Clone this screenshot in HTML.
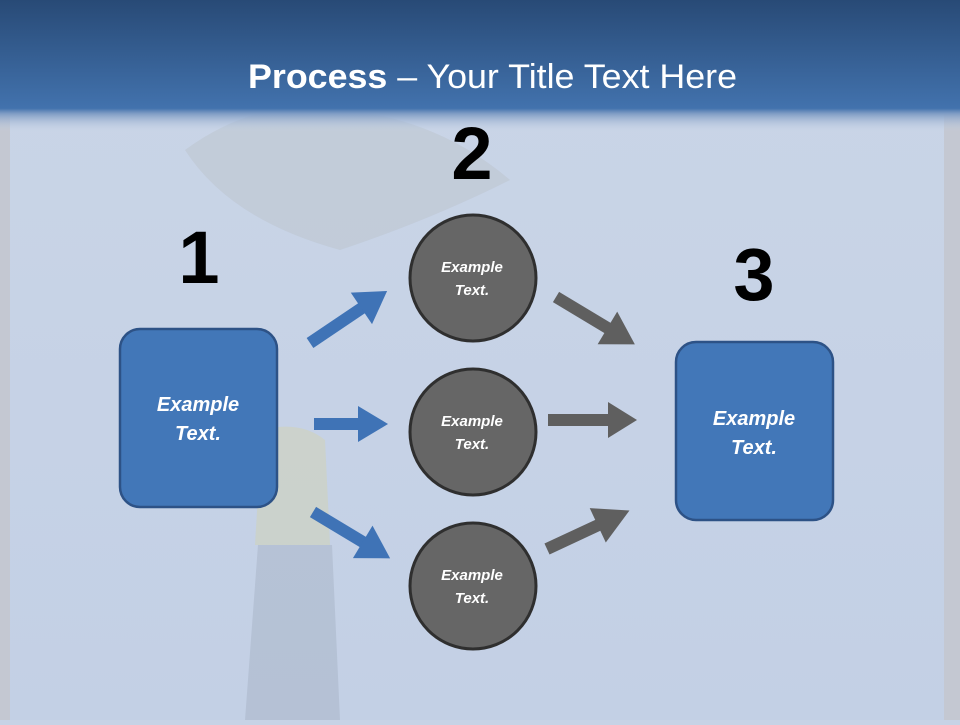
<!DOCTYPE html>
<html><head><meta charset="utf-8"><style>
html,body{margin:0;padding:0}
body{width:960px;height:720px;overflow:hidden;background:#c7d3e6;font-family:"Liberation Sans",sans-serif}
</style></head><body>
<svg width="960" height="720" viewBox="0 0 960 720" xmlns="http://www.w3.org/2000/svg">
<defs>
<linearGradient id="hd" x1="0" y1="0" x2="0" y2="1">
<stop offset="0" stop-color="#284a76"/>
<stop offset="0.82" stop-color="#4272ad"/>
<stop offset="0.86" stop-color="#7f9cc4"/>
<stop offset="1" stop-color="#c7d3e6" stop-opacity="0"/>
</linearGradient>
<linearGradient id="bg" x1="0" y1="0" x2="0" y2="1">
<stop offset="0" stop-color="#cad5e7"/>
<stop offset="1" stop-color="#c3d0e5"/>
</linearGradient>
</defs>
<rect width="960" height="720" fill="url(#bg)"/>
<rect x="0" y="110" width="10" height="610" fill="#c4c8d2"/>
<rect x="944" y="110" width="16" height="610" fill="#c4c8d2"/>
<path d="M185 150 Q260 95 345 110 Q440 120 510 180 Q430 220 340 250 Q230 220 185 150Z" fill="#bcc3cc" opacity="0.5"/>
<path d="M262 430 Q300 420 325 440 L330 545 L255 545Z" fill="#d6d49a" opacity="0.35"/>
<path d="M258 545 L332 545 L340 720 L245 720Z" fill="#9aa6b8" opacity="0.35"/>
<rect x="0" y="0" width="960" height="132" fill="url(#hd)"/>
<text x="248" y="88" textLength="489" lengthAdjust="spacingAndGlyphs" font-size="34" fill="#fff"><tspan font-weight="bold">Process</tspan> – Your Title Text Here</text>
<g font-weight="bold" font-size="74" fill="#000" text-anchor="middle">
<text x="199" y="283">1</text><text x="472" y="179">2</text><text x="754" y="300">3</text>
</g>
<g fill="#3f73b6">
<g transform="translate(310,343) rotate(-34)"><rect x="0" y="-6" width="68" height="12"/><polygon points="62,-19 93,0 62,19"/></g>
<g transform="translate(314,424)"><rect x="0" y="-6" width="50" height="12"/><polygon points="44,-18 74,0 44,18"/></g>
<g transform="translate(313,512) rotate(31)"><rect x="0" y="-6" width="64" height="12"/><polygon points="58,-19 90,0 58,19"/></g>
</g>
<g fill="#5f5f5f">
<g transform="translate(556,297) rotate(31)"><rect x="0" y="-6" width="66" height="12"/><polygon points="60,-19 92,0 60,19"/></g>
<g transform="translate(548,420)"><rect x="0" y="-6" width="66" height="12"/><polygon points="60,-18 89,0 60,18"/></g>
<g transform="translate(547,549) rotate(-25)"><rect x="0" y="-6" width="62" height="12"/><polygon points="56,-19 91,0 56,19"/></g>
</g>
<g fill="#666" stroke="#2f2f2f" stroke-width="3">
<circle cx="473" cy="278" r="63"/><circle cx="473" cy="432" r="63"/><circle cx="473" cy="586" r="63"/>
</g>
<g fill="#fff" font-weight="bold" font-style="italic" font-size="15" text-anchor="middle">
<text x="472" y="272">Example</text><text x="472" y="295">Text.</text>
<text x="472" y="426">Example</text><text x="472" y="449">Text.</text>
<text x="472" y="580">Example</text><text x="472" y="603">Text.</text>
</g>
<g fill="#4277b8" stroke="#2d5286" stroke-width="2.5">
<rect x="120" y="329" width="157" height="178" rx="20"/>
<rect x="676" y="342" width="157" height="178" rx="20"/>
</g>
<g fill="#fff" font-weight="bold" font-style="italic" font-size="20" text-anchor="middle">
<text x="198" y="411">Example</text><text x="198" y="440">Text.</text>
<text x="754" y="425">Example</text><text x="754" y="454">Text.</text>
</g>
</svg>
</body></html>
